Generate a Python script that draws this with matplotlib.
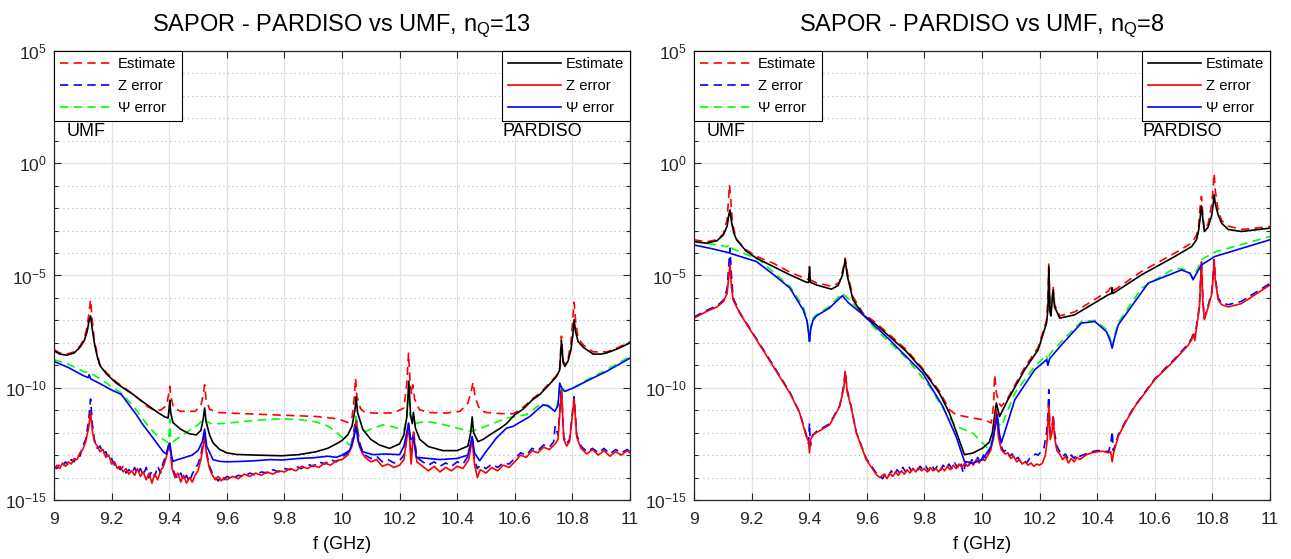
import numpy as np
import matplotlib
matplotlib.use("Agg")
import matplotlib.pyplot as plt
from matplotlib.ticker import FixedLocator, NullFormatter, NullLocator, FuncFormatter, LogFormatterMathtext

plt.rcParams["font.family"] = ["Liberation Sans", "DejaVu Sans"]
plt.rcParams["mathtext.fontset"] = "custom"
plt.rcParams["mathtext.rm"] = "Liberation Sans"
plt.rcParams["mathtext.it"] = "Liberation Sans:italic"
plt.rcParams["mathtext.bf"] = "Liberation Sans:bold"

freq_ticks = [9.0, 9.2, 9.4, 9.6, 9.8, 10.0, 10.2, 10.4, 10.6, 10.8, 11.0]
titles = ["SAPOR - PARDISO vs UMF, n$_{\\mathrm{Q}}$=13",
          "SAPOR - PARDISO vs UMF, n$_{\\mathrm{Q}}$=8"]
labels = ["Estimate", "Z error", "\u03a8 error"]

# values are (f in GHz, log10 of error)
# ---------------- left panel, nQ = 13 ----------------
L_UMF_EST = [(9.00, -8.30), (9.02, -8.45), (9.044, -8.50), (9.07, -8.40), (9.09, -8.15), (9.105, -7.80),
             (9.115, -7.30), (9.122, -6.60), (9.127, -6.08), (9.132, -6.90), (9.14, -7.90), (9.15, -8.50),
             (9.159, -8.95), (9.18, -9.30), (9.20, -9.55), (9.217, -9.75), (9.245, -10.00), (9.275, -10.30),
             (9.30, -10.55), (9.32, -10.80), (9.34, -10.95), (9.37, -11.00), (9.39, -10.80), (9.398, -10.30),
             (9.402, -9.94), (9.406, -10.40), (9.415, -10.90), (9.44, -11.05), (9.49, -11.05), (9.51, -10.80),
             (9.518, -10.30), (9.523, -9.87), (9.528, -10.50), (9.54, -10.95), (9.564, -11.10), (9.65, -11.15),
             (9.79, -11.22), (9.91, -11.28), (9.97, -11.36), (10.00, -11.45), (10.02, -11.55), (10.035, -11.30),
             (10.043, -10.40), (10.047, -9.57), (10.052, -10.40), (10.065, -10.95), (10.08, -11.10),
             (10.12, -11.13), (10.18, -11.12), (10.215, -10.90), (10.225, -9.80), (10.231, -8.46),
             (10.237, -9.90), (10.242, -10.30), (10.246, -9.87), (10.252, -10.50), (10.269, -10.98),
             (10.30, -11.10), (10.36, -11.13), (10.41, -11.05), (10.437, -10.68), (10.448, -10.20),
             (10.455, -9.76), (10.462, -10.40), (10.478, -10.98), (10.50, -11.10), (10.55, -11.15),
             (10.594, -11.16), (10.617, -11.00), (10.64, -10.75), (10.66, -10.50), (10.687, -10.25),
             (10.72, -9.80), (10.745, -9.45), (10.756, -9.10), (10.762, -7.70), (10.768, -8.80),
             (10.774, -8.95), (10.785, -8.70), (10.795, -8.00), (10.801, -7.00), (10.806, -6.19),
             (10.811, -7.00), (10.82, -7.80), (10.838, -8.10), (10.872, -8.40), (10.92, -8.40),
             (10.96, -8.20), (11.00, -7.95)]

L_UMF_Z = [(9.00, -13.5), (9.01, -13.6), (9.02, -13.4), (9.03, -13.5), (9.04, -13.3), (9.05, -13.45),
           (9.06, -13.2), (9.07, -13.3), (9.08, -13.0), (9.09, -13.05), (9.10, -12.6), (9.11, -12.3),
           (9.12, -11.5), (9.127, -10.5), (9.133, -11.6), (9.14, -12.3), (9.15, -12.7), (9.16, -12.6),
           (9.17, -12.95), (9.18, -12.85), (9.19, -13.2), (9.20, -13.15), (9.21, -13.45), (9.22, -13.4),
           (9.23, -13.65), (9.24, -13.5), (9.25, -13.8), (9.26, -13.65), (9.27, -13.8), (9.28, -13.55),
           (9.29, -13.85), (9.30, -13.6), (9.31, -13.9), (9.32, -13.55), (9.33, -14.0), (9.34, -13.7),
           (9.35, -13.95), (9.36, -13.5), (9.37, -13.8), (9.38, -13.3), (9.39, -13.0), (9.40, -12.4),
           (9.405, -12.9), (9.41, -13.5), (9.42, -13.85), (9.43, -14.05), (9.44, -13.8), (9.45, -14.15),
           (9.46, -13.9), (9.47, -14.2), (9.48, -13.85), (9.49, -13.6), (9.50, -13.4), (9.51, -13.0),
           (9.523, -12.0), (9.53, -12.9), (9.54, -13.5), (9.55, -13.8), (9.56, -14.0), (9.57, -14.15),
           (9.58, -13.95), (9.59, -14.1), (9.60, -13.95), (9.62, -14.05), (9.64, -13.9), (9.66, -13.95),
           (9.68, -13.8), (9.70, -13.9), (9.72, -13.75), (9.74, -13.8), (9.76, -13.65), (9.78, -13.75),
           (9.80, -13.6), (9.82, -13.65), (9.84, -13.5), (9.86, -13.6), (9.88, -13.4), (9.90, -13.5),
           (9.92, -13.3), (9.94, -13.4), (9.96, -13.2), (9.98, -13.3), (10.00, -13.1), (10.02, -12.9),
           (10.035, -12.4), (10.049, -11.3), (10.06, -12.4), (10.07, -12.8), (10.08, -13.0), (10.10, -13.15),
           (10.12, -13.05), (10.14, -13.3), (10.16, -13.2), (10.18, -13.35), (10.20, -13.25), (10.215, -13.0),
           (10.232, -11.7), (10.24, -13.1), (10.248, -11.9), (10.26, -13.1), (10.28, -13.3), (10.30, -13.45),
           (10.32, -13.3), (10.34, -13.5), (10.36, -13.35), (10.38, -13.5), (10.40, -13.3), (10.42, -13.4),
           (10.44, -13.0), (10.452, -12.2), (10.46, -13.2), (10.47, -13.6), (10.48, -13.45), (10.50, -13.6),
           (10.52, -13.4), (10.54, -13.55), (10.56, -13.35), (10.58, -13.4), (10.60, -13.15), (10.62, -12.9),
           (10.64, -13.0), (10.66, -12.7), (10.68, -12.8), (10.70, -12.55), (10.72, -12.65), (10.735, -12.4),
           (10.74, -11.7), (10.75, -12.1), (10.762, -10.0), (10.77, -12.2), (10.78, -12.5), (10.79, -12.3),
           (10.806, -10.4), (10.815, -12.1), (10.83, -12.6), (10.85, -12.85), (10.87, -12.7), (10.89, -12.9),
           (10.91, -12.7), (10.93, -12.95), (10.95, -12.75), (10.97, -12.9), (10.99, -12.75), (11.00, -12.85)]

L_UMF_PSI = [(9.00, -8.75), (9.05, -8.95), (9.102, -9.27), (9.127, -9.35), (9.16, -9.60), (9.20, -9.95),
             (9.234, -10.24), (9.26, -10.60), (9.286, -11.00), (9.309, -11.40), (9.333, -11.80),
             (9.356, -12.10), (9.379, -12.30), (9.396, -12.45), (9.400, -12.00), (9.402, -11.40),
             (9.405, -12.30), (9.413, -12.40), (9.43, -12.25), (9.448, -12.10), (9.475, -11.85),
             (9.50, -11.65), (9.515, -11.45), (9.523, -11.35), (9.53, -11.50), (9.55, -11.62),
             (9.60, -11.58), (9.70, -11.45), (9.79, -11.38), (9.85, -11.42), (9.91, -11.52), (9.95, -11.70),
             (9.97, -11.87), (10.00, -12.20), (10.026, -12.55), (10.04, -12.40), (10.049, -11.30),
             (10.055, -11.90), (10.072, -12.00), (10.10, -11.85), (10.142, -11.65), (10.18, -11.75),
             (10.215, -11.90), (10.225, -11.30), (10.231, -10.00), (10.237, -11.30), (10.25, -11.60),
             (10.292, -11.50), (10.34, -11.60), (10.40, -11.80), (10.449, -11.94), (10.46, -11.90),
             (10.513, -11.65), (10.571, -11.35), (10.64, -11.20), (10.687, -10.76), (10.71, -10.80),
             (10.733, -10.98), (10.745, -10.90), (10.752, -10.50), (10.756, -9.87), (10.762, -10.10),
             (10.774, -10.16), (10.803, -10.01), (10.85, -9.65), (10.919, -9.20), (11.00, -8.61)]

L_PAR_EST = [(9.00, -8.35), (9.02, -8.50), (9.044, -8.55), (9.07, -8.45), (9.09, -8.20), (9.105, -7.90),
             (9.115, -7.50), (9.122, -7.00), (9.127, -6.80), (9.132, -7.30), (9.14, -8.00), (9.15, -8.60),
             (9.159, -9.00), (9.18, -9.35), (9.20, -9.60), (9.217, -9.80), (9.245, -10.05), (9.275, -10.30),
             (9.30, -10.55), (9.333, -10.85), (9.36, -11.10), (9.385, -11.30), (9.396, -11.35),
             (9.400, -10.90), (9.402, -10.55), (9.405, -11.10), (9.413, -11.55), (9.44, -11.85),
             (9.47, -12.05), (9.494, -12.10), (9.51, -11.90), (9.518, -11.40), (9.523, -10.90),
             (9.528, -11.50), (9.54, -12.10), (9.552, -12.45), (9.575, -12.75), (9.60, -12.90),
             (9.633, -12.97), (9.70, -13.00), (9.79, -13.03), (9.85, -12.98), (9.91, -12.85), (9.95, -12.70),
             (9.98, -12.50), (10.00, -12.35), (10.02, -12.10), (10.035, -11.70), (10.045, -11.00),
             (10.049, -10.40), (10.054, -11.10), (10.072, -11.85), (10.10, -12.30), (10.13, -12.55),
             (10.165, -12.70), (10.20, -12.50), (10.215, -12.10), (10.225, -11.30), (10.232, -9.70),
             (10.238, -11.20), (10.244, -11.60), (10.248, -11.10), (10.255, -11.80), (10.27, -12.30),
             (10.30, -12.62), (10.35, -12.80), (10.40, -12.80), (10.437, -12.60), (10.447, -12.00),
             (10.452, -11.30), (10.457, -12.00), (10.472, -12.40), (10.49, -12.30), (10.513, -12.10),
             (10.55, -11.80), (10.571, -11.60), (10.60, -11.20), (10.629, -10.95), (10.66, -10.55),
             (10.687, -10.30), (10.72, -9.85), (10.745, -9.50), (10.756, -9.20), (10.762, -7.90),
             (10.768, -8.90), (10.774, -9.05), (10.785, -8.80), (10.795, -8.30), (10.801, -7.70),
             (10.806, -6.97), (10.811, -7.50), (10.82, -7.95), (10.838, -8.20), (10.872, -8.50),
             (10.90, -8.50), (10.919, -8.45), (10.96, -8.25), (11.00, -8.00)]

L_PAR_Z = [(9.00, -13.65), (9.01, -13.45), (9.02, -13.6), (9.03, -13.35), (9.04, -13.5), (9.05, -13.3),
           (9.06, -13.4), (9.07, -13.15), (9.08, -13.2), (9.09, -12.9), (9.10, -12.75), (9.11, -12.4),
           (9.12, -11.8), (9.127, -11.1), (9.133, -11.9), (9.14, -12.4), (9.15, -12.6), (9.16, -12.85),
           (9.17, -12.75), (9.18, -13.1), (9.19, -13.0), (9.20, -13.4), (9.21, -13.3), (9.22, -13.6),
           (9.23, -13.5), (9.24, -13.75), (9.25, -13.6), (9.26, -13.85), (9.27, -13.7), (9.28, -13.9),
           (9.29, -13.6), (9.30, -13.95), (9.31, -13.75), (9.32, -14.1), (9.33, -13.8), (9.34, -14.25),
           (9.35, -13.85), (9.36, -14.1), (9.37, -13.7), (9.38, -13.5), (9.39, -13.1), (9.40, -12.5),
           (9.405, -12.8), (9.41, -13.6), (9.42, -14.0), (9.43, -13.8), (9.44, -14.2), (9.45, -13.9),
           (9.46, -14.25), (9.47, -14.0), (9.48, -14.2), (9.49, -13.9), (9.50, -13.7), (9.51, -13.2),
           (9.523, -12.2), (9.53, -13.0), (9.54, -13.6), (9.55, -13.9), (9.56, -14.1), (9.57, -13.95),
           (9.58, -14.15), (9.59, -14.0), (9.60, -14.1), (9.62, -13.95), (9.64, -14.05), (9.66, -13.85),
           (9.68, -13.95), (9.70, -13.8), (9.72, -13.9), (9.74, -13.75), (9.76, -13.85), (9.78, -13.7),
           (9.80, -13.75), (9.82, -13.6), (9.84, -13.7), (9.86, -13.5), (9.88, -13.6), (9.90, -13.45),
           (9.92, -13.55), (9.94, -13.35), (9.96, -13.45), (9.98, -13.25), (10.00, -13.2), (10.02, -13.0),
           (10.035, -12.6), (10.049, -11.5), (10.06, -12.6), (10.07, -12.9), (10.08, -13.1), (10.10, -13.3),
           (10.12, -13.2), (10.14, -13.5), (10.16, -13.4), (10.18, -13.55), (10.20, -13.45), (10.215, -13.2),
           (10.232, -11.6), (10.24, -13.4), (10.248, -12.0), (10.26, -13.3), (10.28, -13.5), (10.30, -13.7),
           (10.32, -13.5), (10.34, -13.75), (10.36, -13.55), (10.38, -13.7), (10.40, -13.5), (10.42, -13.6),
           (10.44, -13.2), (10.452, -12.3), (10.46, -13.4), (10.47, -14.0), (10.48, -13.65), (10.50, -13.8),
           (10.52, -13.55), (10.54, -13.7), (10.56, -13.45), (10.58, -13.55), (10.60, -13.3), (10.62, -13.0),
           (10.64, -13.1), (10.66, -12.8), (10.68, -12.9), (10.70, -12.65), (10.72, -12.75), (10.74, -12.5),
           (10.75, -12.3), (10.762, -10.1), (10.77, -12.3), (10.78, -12.6), (10.79, -12.4), (10.806, -10.5),
           (10.815, -12.2), (10.83, -12.7), (10.85, -12.95), (10.87, -12.75), (10.89, -13.0), (10.91, -12.8),
           (10.93, -13.05), (10.95, -12.85), (10.97, -13.0), (10.99, -12.8), (11.00, -12.9)]

L_PAR_PSI = [(9.00, -8.83), (9.05, -9.10), (9.10, -9.45), (9.119, -9.55), (9.122, -9.42), (9.127, -9.60),
             (9.16, -9.82), (9.20, -10.10), (9.234, -10.30), (9.26, -10.75), (9.286, -11.20),
             (9.309, -11.65), (9.333, -12.05), (9.356, -12.45), (9.379, -12.85), (9.39, -12.95),
             (9.396, -12.70), (9.402, -12.46), (9.408, -13.00), (9.413, -13.28), (9.43, -13.20),
             (9.448, -13.13), (9.48, -13.00), (9.50, -12.80), (9.515, -12.40), (9.523, -11.84),
             (9.53, -12.60), (9.552, -13.20), (9.575, -13.28), (9.60, -13.30), (9.65, -13.28),
             (9.70, -13.25), (9.75, -13.20), (9.79, -13.22), (9.85, -13.15), (9.90, -13.12), (9.95, -13.05),
             (9.98, -13.10), (10.00, -13.00), (10.026, -12.80), (10.04, -12.30), (10.049, -11.72),
             (10.056, -12.40), (10.072, -12.85), (10.107, -12.98), (10.15, -12.95), (10.20, -12.98),
             (10.215, -12.60), (10.225, -12.00), (10.231, -11.57), (10.238, -12.30), (10.248, -12.20),
             (10.258, -13.10), (10.30, -13.15), (10.339, -13.20), (10.40, -13.15), (10.437, -13.00),
             (10.452, -12.17), (10.46, -12.90), (10.478, -13.25), (10.501, -12.83), (10.536, -12.24),
             (10.571, -11.80), (10.594, -11.72), (10.652, -11.28), (10.698, -10.76), (10.716, -10.80),
             (10.739, -11.05), (10.75, -10.80), (10.756, -9.79), (10.762, -10.00), (10.774, -10.16),
             (10.803, -10.01), (10.85, -9.70), (10.919, -9.27), (11.00, -8.68)]

# ---------------- right panel, nQ = 8 ----------------
R_UMF_EST = [(9.00, -3.41), (9.044, -3.50), (9.08, -3.40), (9.102, -3.15), (9.115, -2.50), (9.12, -1.60),
             (9.123, -0.96), (9.127, -1.50), (9.133, -2.60), (9.145, -3.35), (9.18, -3.85), (9.217, -4.15),
             (9.275, -4.45), (9.333, -4.85), (9.39, -5.15), (9.398, -5.18), (9.401, -4.60), (9.404, -5.20),
             (9.425, -5.32), (9.48, -5.49), (9.505, -5.30), (9.516, -4.80), (9.525, -4.22), (9.533, -4.90),
             (9.552, -5.95), (9.587, -6.68), (9.633, -7.12), (9.679, -7.64), (9.737, -8.30), (9.794, -9.15),
             (9.852, -10.15), (9.887, -10.98), (9.91, -11.20), (9.968, -11.35), (10.002, -11.42),
             (10.021, -11.50), (10.032, -11.57), (10.04, -10.80), (10.044, -9.42), (10.05, -10.24),
             (10.06, -10.70), (10.067, -10.83), (10.09, -10.45), (10.148, -9.10), (10.195, -8.20),
             (10.224, -7.00), (10.229, -6.00), (10.232, -4.45), (10.236, -6.40), (10.24, -6.60),
             (10.244, -6.00), (10.247, -5.50), (10.252, -6.30), (10.27, -6.80), (10.322, -6.62),
             (10.438, -5.70), (10.452, -5.45), (10.46, -5.65), (10.554, -4.82), (10.67, -4.00),
             (10.728, -3.55), (10.745, -3.20), (10.752, -2.80), (10.757, -2.00), (10.762, -1.48),
             (10.767, -2.30), (10.772, -2.95), (10.785, -2.70), (10.798, -1.80), (10.803, -1.00),
             (10.806, -0.45), (10.81, -1.20), (10.82, -2.10), (10.832, -2.55), (10.855, -2.80),
             (10.901, -2.95), (11.00, -2.82)]

R_UMF_Z = [(9.00, -6.85), (9.044, -6.55), (9.08, -6.35), (9.102, -6.10), (9.115, -5.60), (9.121, -4.50),
           (9.125, -3.78), (9.129, -4.80), (9.136, -6.00), (9.159, -6.65), (9.217, -7.82), (9.275, -9.00),
           (9.333, -10.20), (9.367, -11.10), (9.39, -12.10), (9.398, -12.50), (9.401, -11.57),
           (9.404, -12.60), (9.413, -12.10), (9.425, -11.95), (9.471, -11.60), (9.506, -10.80),
           (9.52, -9.90), (9.525, -9.27), (9.532, -10.10), (9.545, -10.80), (9.564, -12.00),
           (9.598, -13.15), (9.633, -13.80), (9.645, -13.95), (9.655, -14.05), (9.665, -13.80),
           (9.675, -13.95), (9.685, -13.70), (9.695, -13.90), (9.705, -13.65), (9.715, -13.80),
           (9.725, -13.55), (9.735, -13.75), (9.745, -13.50), (9.755, -13.70), (9.765, -13.55),
           (9.775, -13.70), (9.785, -13.50), (9.795, -13.65), (9.805, -13.50), (9.815, -13.70),
           (9.825, -13.45), (9.835, -13.65), (9.845, -13.50), (9.855, -13.70), (9.865, -13.45),
           (9.875, -13.60), (9.885, -13.40), (9.895, -13.60), (9.905, -13.35), (9.915, -13.55),
           (9.925, -13.30), (9.935, -13.80), (9.945, -13.25), (9.955, -13.45), (9.965, -13.20),
           (9.975, -13.40), (9.985, -13.10), (9.995, -13.30), (10.005, -13.00), (10.015, -13.15),
           (10.025, -12.85), (10.035, -12.50), (10.044, -11.80), (10.05, -11.00), (10.057, -12.00),
           (10.067, -12.60), (10.075, -12.85), (10.085, -12.75), (10.095, -13.05), (10.105, -12.95),
           (10.115, -13.20), (10.125, -13.10), (10.135, -13.30), (10.145, -13.20), (10.155, -13.35),
           (10.165, -13.15), (10.175, -13.10), (10.185, -12.95), (10.195, -13.00), (10.205, -12.85),
           (10.215, -12.70), (10.224, -12.00), (10.229, -11.20), (10.232, -10.09), (10.236, -12.00),
           (10.243, -11.80), (10.247, -11.20), (10.252, -12.00), (10.26, -12.60), (10.27, -12.85),
           (10.28, -13.05), (10.29, -12.95), (10.30, -13.20), (10.31, -13.00), (10.32, -13.15),
           (10.33, -12.95), (10.34, -13.05), (10.36, -12.95), (10.38, -12.85), (10.40, -12.80),
           (10.42, -12.80), (10.44, -12.85), (10.448, -12.40), (10.452, -11.94), (10.456, -12.80),
           (10.473, -12.10), (10.50, -11.45), (10.531, -10.80), (10.60, -9.60), (10.67, -8.70),
           (10.716, -8.05), (10.728, -7.80), (10.735, -7.50), (10.739, -7.80), (10.745, -7.20),
           (10.749, -6.90), (10.755, -6.30), (10.762, -4.38), (10.767, -6.10), (10.772, -6.90),
           (10.786, -6.30), (10.798, -5.70), (10.803, -4.90), (10.806, -4.30), (10.81, -5.10),
           (10.82, -6.00), (10.832, -6.22), (10.855, -6.30), (10.901, -6.15), (11.00, -5.35)]

R_UMF_PSI = [(9.00, -3.49), (9.05, -3.58), (9.10, -3.68), (9.115, -3.72), (9.124, -3.60), (9.132, -3.80),
             (9.18, -4.05), (9.227, -4.30), (9.28, -4.90), (9.333, -5.49), (9.379, -6.38), (9.392, -6.90),
             (9.398, -7.50), (9.401, -7.86), (9.405, -7.30), (9.413, -6.90), (9.425, -6.75), (9.47, -6.38),
             (9.515, -5.79), (9.552, -6.23), (9.633, -7.42), (9.737, -8.68), (9.818, -9.94), (9.875, -11.13),
             (9.91, -11.72), (9.968, -12.02), (10.014, -12.61), (10.021, -12.70), (10.04, -12.30),
             (10.05, -11.05), (10.058, -11.60), (10.067, -11.72), (10.114, -10.24), (10.183, -9.05),
             (10.224, -8.55), (10.229, -8.90), (10.235, -8.50), (10.276, -7.94), (10.345, -7.05),
             (10.392, -7.00), (10.432, -7.40), (10.445, -7.80), (10.452, -8.23), (10.46, -7.70),
             (10.473, -7.10), (10.554, -5.56), (10.67, -4.67), (10.716, -4.75), (10.733, -5.12),
             (10.745, -4.80), (10.762, -4.30), (10.809, -3.95), (11.00, -3.26)]

R_PAR_EST = [(9.00, -3.49), (9.044, -3.56), (9.08, -3.45), (9.102, -3.19), (9.115, -2.80), (9.121, -2.30),
             (9.125, -2.08), (9.13, -2.60), (9.138, -3.10), (9.148, -3.41), (9.18, -3.90), (9.217, -4.23),
             (9.275, -4.60), (9.333, -4.97), (9.39, -5.30), (9.398, -5.31), (9.401, -4.63), (9.404, -5.30),
             (9.425, -5.42), (9.477, -5.61), (9.50, -5.45), (9.515, -5.00), (9.525, -4.30), (9.532, -5.00),
             (9.552, -6.08), (9.587, -6.75), (9.633, -7.20), (9.679, -7.72), (9.737, -8.38), (9.794, -9.20),
             (9.852, -10.24), (9.887, -11.13), (9.91, -11.94), (9.939, -12.98), (9.968, -12.91),
             (10.002, -12.69), (10.025, -12.43), (10.036, -12.00), (10.044, -11.20), (10.05, -10.68),
             (10.056, -11.00), (10.061, -11.28), (10.09, -10.53), (10.148, -9.20), (10.195, -8.31),
             (10.224, -7.12), (10.229, -6.50), (10.232, -4.60), (10.236, -6.60), (10.239, -6.80),
             (10.243, -6.20), (10.247, -5.64), (10.252, -6.40), (10.27, -6.90), (10.322, -6.75),
             (10.438, -5.86), (10.45, -5.80), (10.452, -5.55), (10.455, -5.80), (10.554, -4.97),
             (10.67, -4.15), (10.728, -3.71), (10.745, -3.40), (10.752, -3.00), (10.757, -2.50),
             (10.762, -1.90), (10.767, -2.50), (10.772, -3.04), (10.785, -2.85), (10.798, -2.30),
             (10.803, -1.80), (10.806, -1.40), (10.81, -1.80), (10.82, -2.30), (10.832, -2.67),
             (10.855, -2.95), (10.901, -3.04), (11.00, -2.89)]

R_PAR_Z = [(9.00, -6.90), (9.044, -6.60), (9.08, -6.40), (9.102, -6.16), (9.115, -5.80), (9.121, -5.00),
           (9.125, -4.50), (9.13, -5.50), (9.136, -6.10), (9.159, -6.68), (9.217, -7.86), (9.275, -9.05),
           (9.333, -10.24), (9.367, -11.13), (9.39, -12.17), (9.398, -12.40), (9.401, -12.90),
           (9.405, -12.30), (9.413, -12.10), (9.425, -12.00), (9.471, -11.65), (9.506, -10.83),
           (9.52, -10.00), (9.525, -9.27), (9.532, -10.20), (9.545, -10.83), (9.564, -12.02),
           (9.598, -13.20), (9.633, -13.87), (9.645, -14.00), (9.66, -13.85), (9.67, -14.05), (9.68, -13.80),
           (9.69, -13.95), (9.70, -13.75), (9.71, -13.90), (9.72, -13.70), (9.73, -13.85), (9.74, -13.65),
           (9.75, -13.80), (9.76, -13.60), (9.77, -13.75), (9.78, -13.55), (9.79, -13.70), (9.80, -13.60),
           (9.81, -13.75), (9.82, -13.55), (9.83, -13.70), (9.84, -13.60), (9.85, -13.75), (9.86, -13.55),
           (9.87, -13.70), (9.88, -13.50), (9.89, -13.65), (9.90, -13.45), (9.91, -13.60), (9.92, -13.40),
           (9.93, -13.55), (9.94, -13.35), (9.95, -13.50), (9.96, -13.30), (9.97, -13.45), (9.98, -13.20),
           (9.99, -13.35), (10.00, -13.15), (10.01, -13.25), (10.02, -13.00), (10.03, -12.80),
           (10.04, -12.20), (10.05, -10.98), (10.057, -12.20), (10.067, -12.76), (10.08, -12.95),
           (10.09, -12.90), (10.10, -13.15), (10.11, -13.05), (10.12, -13.30), (10.13, -13.20),
           (10.14, -13.40), (10.15, -13.30), (10.16, -13.45), (10.17, -13.35), (10.18, -13.50),
           (10.19, -13.40), (10.20, -13.45), (10.21, -13.35), (10.22, -13.00), (10.226, -12.40),
           (10.232, -10.80), (10.237, -12.30), (10.243, -12.00), (10.247, -11.28), (10.252, -12.20),
           (10.26, -12.80), (10.27, -12.95), (10.28, -13.20), (10.29, -13.05), (10.30, -13.35),
           (10.31, -13.15), (10.32, -13.30), (10.33, -13.10), (10.34, -13.20), (10.36, -13.00),
           (10.38, -12.90), (10.40, -12.85), (10.42, -12.83), (10.44, -12.90), (10.447, -12.85),
           (10.452, -13.30), (10.457, -12.90), (10.473, -12.17), (10.50, -11.50), (10.531, -10.83),
           (10.60, -9.64), (10.67, -8.75), (10.716, -8.10), (10.728, -7.86), (10.735, -7.60),
           (10.739, -7.90), (10.745, -7.30), (10.749, -6.97), (10.755, -6.40), (10.762, -4.38),
           (10.767, -6.20), (10.772, -6.97), (10.786, -6.38), (10.798, -5.80), (10.803, -5.00),
           (10.806, -4.30), (10.81, -5.20), (10.82, -6.08), (10.832, -6.30), (10.855, -6.40),
           (10.901, -6.25), (11.00, -5.42)]

R_PAR_PSI = [(9.00, -3.64), (9.06, -3.80), (9.12, -3.98), (9.125, -4.01), (9.217, -4.38), (9.28, -5.00),
             (9.333, -5.56), (9.379, -6.53), (9.392, -7.00), (9.398, -7.60), (9.401, -7.94), (9.405, -7.40),
             (9.413, -7.00), (9.425, -6.80), (9.47, -6.45), (9.515, -5.90), (9.535, -6.20), (9.587, -6.75),
             (9.679, -7.86), (9.794, -9.35), (9.864, -10.83), (9.91, -12.17), (9.939, -13.28),
             (9.968, -13.35), (10.002, -13.20), (10.032, -12.60), (10.045, -11.80), (10.053, -11.20),
             (10.06, -12.00), (10.067, -12.46), (10.114, -10.53), (10.183, -9.20), (10.224, -8.75),
             (10.229, -9.00), (10.235, -8.70), (10.276, -8.09), (10.345, -7.12), (10.392, -7.05),
             (10.432, -7.50), (10.445, -7.90), (10.452, -8.23), (10.46, -7.80), (10.473, -7.20),
             (10.577, -5.34), (10.693, -4.75), (10.722, -4.90), (10.733, -5.19), (10.745, -4.90),
             (10.762, -4.53), (10.809, -4.15), (11.00, -3.41)]

panels = [
    ([L_UMF_EST, L_UMF_Z, L_UMF_PSI], [L_PAR_EST, L_PAR_Z, L_PAR_PSI]),
    ([R_UMF_EST, R_UMF_Z, R_UMF_PSI], [R_PAR_EST, R_PAR_Z, R_PAR_PSI]),
]
umf_colors = ["#ff0000", "#0000ff", "#00ff00"]
par_colors = ["#000000", "#ff0000", "#0000ff"]

fig = plt.figure(figsize=(12.91, 5.59), dpi=100)
lefts = [54 / 1291, 694 / 1291]
W, H = 576 / 1291, 449 / 559
B = 59 / 559

for k, (umf, par) in enumerate(panels):
    ax = fig.add_axes([lefts[k], B, W, H])
    ax.set_yscale("log")
    umf_lines, par_lines = [], []
    for pts, c, lab in zip(umf, umf_colors, labels):
        f, lg = zip(*pts)
        ln, = ax.plot(f, 10.0 ** np.array(lg), color=c, lw=1.2, ls=(0, (5, 3.2)), label=lab)
        umf_lines.append(ln)
    for pts, c, lab in zip(par, par_colors, labels):
        f, lg = zip(*pts)
        ln, = ax.plot(f, 10.0 ** np.array(lg), color=c, lw=1.2, label=lab)
        par_lines.append(ln)

    ax.set_xlim(9, 11)
    ax.set_ylim(1e-15, 1e5)
    ax.set_xticks(freq_ticks)
    ax.xaxis.set_minor_locator(NullLocator())
    ax.xaxis.set_major_formatter(FuncFormatter(lambda v, p: f"{v:g}"))
    ax.yaxis.set_major_locator(FixedLocator([1e-15, 1e-10, 1e-5, 1e0, 1e5]))
    ax.yaxis.set_major_formatter(LogFormatterMathtext())
    ax.yaxis.set_minor_locator(FixedLocator([10.0 ** e for e in range(-15, 6)]))
    ax.yaxis.set_minor_formatter(NullFormatter())
    ax.set_axisbelow(True)
    ax.grid(True, which="major", color="#e3e3e3", lw=0.9, ls="-")
    ax.grid(True, which="minor", axis="y", color="#b8b8b8", lw=0.8, ls=(0, (1, 3)))
    ax.tick_params(which="both", direction="in", top=True, right=True, labelsize=12.5,
                   colors="#262626", width=0.8)
    ax.tick_params(which="major", length=5)
    ax.tick_params(which="minor", length=3)
    ax.tick_params(axis="x", pad=9)
    ax.tick_params(axis="y", pad=5)
    for s in ax.spines.values():
        s.set_color("#262626")
        s.set_linewidth(0.9)

    ax.set_title(titles[k], fontsize=17, pad=14)
    ax.set_xlabel("f (GHz)", fontsize=13, labelpad=6)

    leg1 = ax.legend(handles=umf_lines, loc="upper left", bbox_to_anchor=(0, 1), borderaxespad=0,
                     fontsize=10.7, handlelength=3.6, handletextpad=0.3, labelspacing=0.55,
                     borderpad=0.4, fancybox=False, edgecolor="black", framealpha=1)
    leg1.get_frame().set_linewidth(0.8)
    ax.add_artist(leg1)
    leg2 = ax.legend(handles=par_lines, loc="upper right", bbox_to_anchor=(1, 1), borderaxespad=0,
                     fontsize=10.7, handlelength=3.6, handletextpad=0.3, labelspacing=0.55,
                     borderpad=0.4, fancybox=False, edgecolor="black", framealpha=1)
    leg2.get_frame().set_linewidth(0.8)

    ax.text(0.0226, 0.82, "UMF", transform=ax.transAxes, fontsize=13, va="center", ha="left")
    ax.text(0.778, 0.82, "PARDISO", transform=ax.transAxes, fontsize=13, va="center", ha="left")

fig.savefig("out.png", dpi=100)
